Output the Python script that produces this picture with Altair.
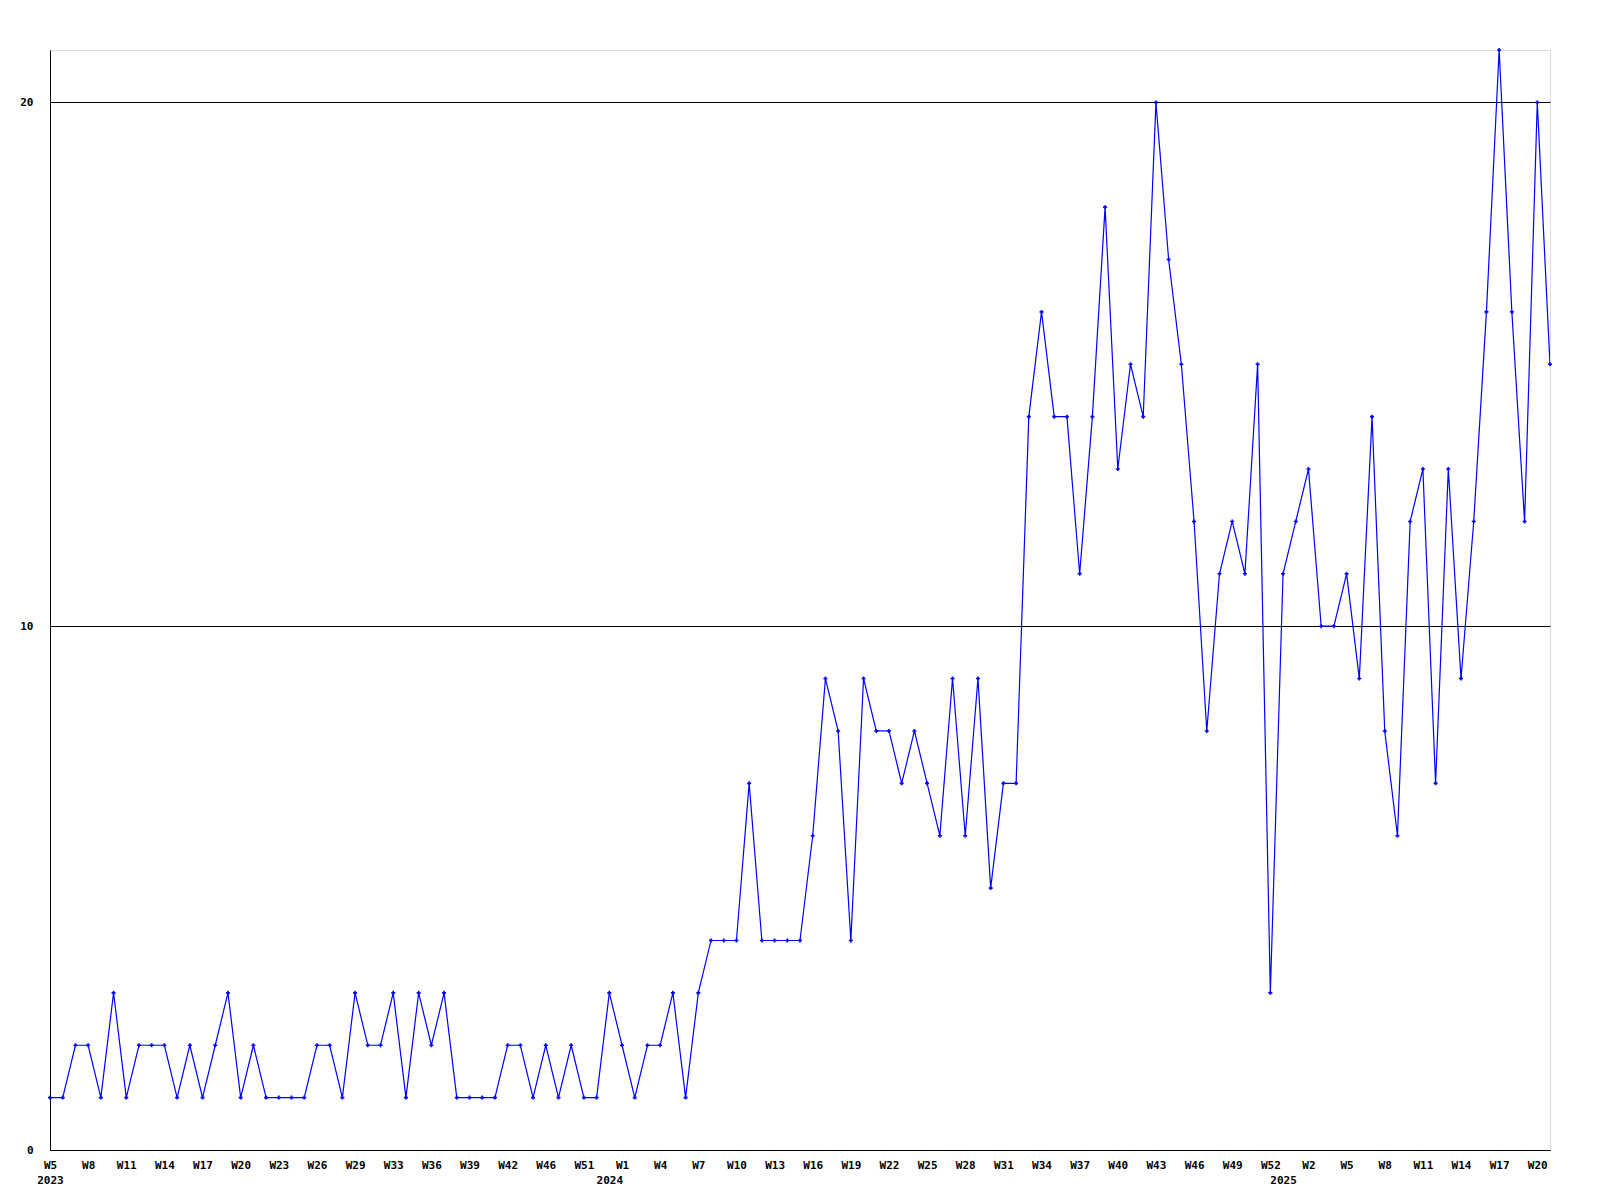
import json
import altair as alt
import pandas as pd

# Weekly counts, one per plotted point (left to right)
values = [
    1, 1, 2, 2, 1, 3, 1, 2, 2, 2,
    1, 2, 1, 2, 3, 1, 2, 1, 1, 1,
    1, 2, 2, 1, 3, 2, 2, 3, 1, 3,
    2, 3, 1, 1, 1, 1, 2, 2, 1, 2,
    1, 2, 1, 1, 3, 2, 1, 2, 2, 3,
    1, 3, 4, 4, 4, 7, 4, 4, 4, 4,
    6, 9, 8, 4, 9, 8, 8, 7, 8, 7,
    6, 9, 6, 9, 5, 7, 7, 14, 16, 14,
    14, 11, 14, 18, 13, 15, 14, 20, 17, 15,
    12, 8, 11, 12, 11, 15, 3, 11, 12, 13,
    10, 10, 11, 9, 14, 8, 6, 12, 13, 7,
    13, 9, 12, 16, 21, 16, 12, 20, 15,
]

# Visible week tick labels: one on every third point
week_labels = [
    "W5", "W8", "W11", "W14", "W17", "W20", "W23", "W26", "W29", "W33",
    "W36", "W39", "W42", "W46", "W51", "W1", "W4", "W7", "W10", "W13",
    "W16", "W19", "W22", "W25", "W28", "W31", "W34", "W37", "W40", "W43",
    "W46", "W49", "W52", "W2", "W5", "W8", "W11", "W14", "W17", "W20",
]
label_step = 3

# Year labels and the point index each one sits under
year_labels = ["2023", "2024", "2025"]
year_index = [0, 44, 97]

y_ticks = [0, 10, 20]
y_max = 21

df = pd.DataFrame({"idx": list(range(len(values))), "count": values})

label_rows = [""] * len(values)
for k, w in enumerate(week_labels):
    label_rows[label_step * k] = w
for pos, yr in zip(year_index, year_labels):
    label_rows[pos] = [label_rows[pos], yr]

tick_values = sorted(set([label_step * k for k in range(len(week_labels))] + year_index))
label_expr = json.dumps(label_rows) + "[datum.value]"

FONT = "DejaVu Sans Mono"
BLUE = "#0000ff"

base = alt.Chart(df).encode(
    x=alt.X(
        "idx:Q",
        scale=alt.Scale(domain=[0, len(values) - 1], nice=False, zero=False),
        axis=alt.Axis(
            values=tick_values,
            labelExpr=label_expr,
            title=None,
            ticks=False,
            grid=False,
            labelOverlap=False,
            labelFlush=False,
            labelPadding=9,
            labelLineHeight=15,
            labelBaseline="top",
            labelFont=FONT,
            labelFontSize=11,
            labelFontWeight="bold",
            labelColor="black",
            domainColor="black",
            domainWidth=1,
        ),
    ),
    y=alt.Y(
        "count:Q",
        scale=alt.Scale(domain=[0, y_max], nice=False),
        axis=alt.Axis(
            values=y_ticks,
            title=None,
            ticks=False,
            grid=True,
            gridColor="black",
            gridOpacity=1,
            gridWidth=1,
            labelPadding=17,
            labelFont=FONT,
            labelFontSize=11,
            labelFontWeight="bold",
            labelColor="black",
            domainColor="black",
            domainWidth=1,
        ),
    ),
)

line = base.mark_line(color=BLUE, strokeWidth=1.2, clip=True)
pts = base.mark_point(shape="cross", filled=True, size=16, color=BLUE, opacity=1)

chart = (
    (line + pts)
    .properties(
        width=1500,
        height=1100,
        autosize=alt.AutoSizeParams(type="none"),
        padding={"left": 42, "top": 42, "right": 42, "bottom": 50},
    )
    .configure_view(stroke=None)
    .configure_axis(grid=False)
    .configure(background="white")
)

chart.save("out.html", embed_options={"renderer": "svg", "actions": False})
